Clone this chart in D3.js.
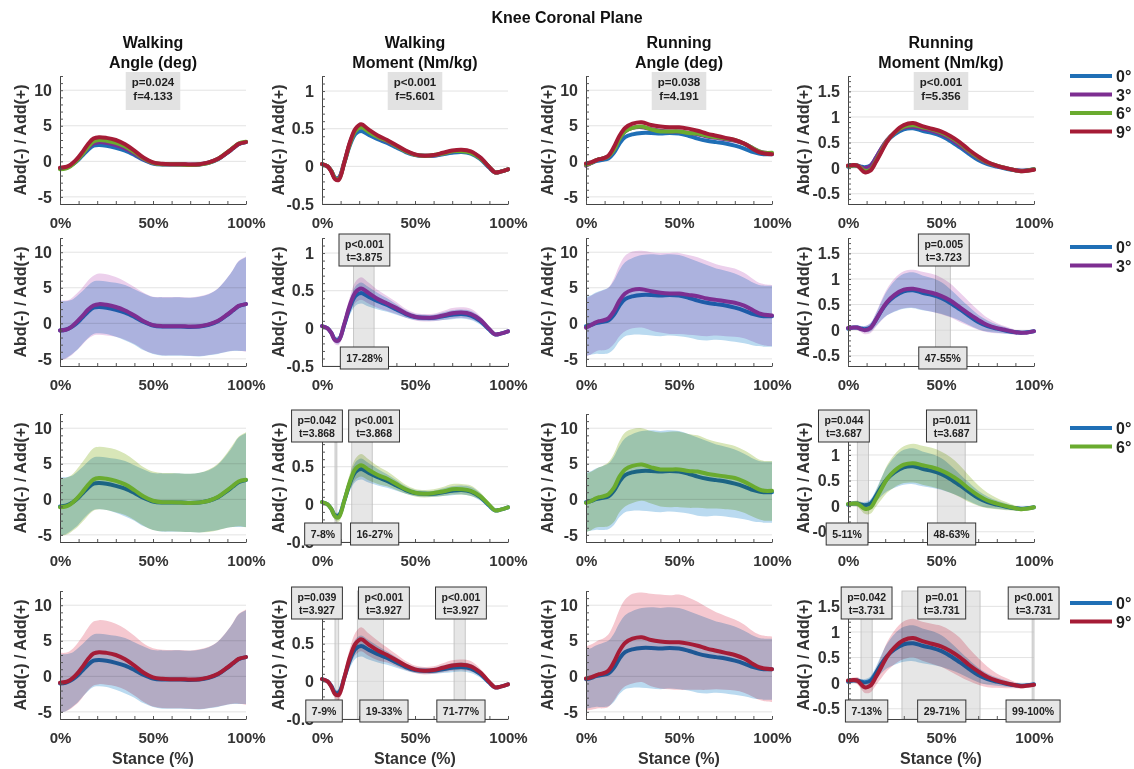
<!DOCTYPE html>
<html><head><meta charset="utf-8">
<script src="https://cdn.jsdelivr.net/npm/d3@7"></script>
<style>
body{margin:0;background:#fff}
svg{display:block}
text{font-family:"Liberation Sans",Arial,sans-serif;font-weight:bold}
.band{mix-blend-mode:multiply}
</style>
</head><body><svg id="c" width="1134" height="769"></svg>
<script>
// ---------------- DATA ----------------
const mainTitle = "Knee Coronal Plane";
const panelTitles = [["Walking","Angle (deg)"],["Walking","Moment (Nm/kg)"],["Running","Angle (deg)"],["Running","Moment (Nm/kg)"]];
const conditions = ["0°","3°","6°","9°"];
const stance = [0,3,5,7,9,12,15,18,21,25,30,35,40,45,50,55,60,65,70,75,80,85,90,93,96,100];
const xTickValues = [0,50,100];
const yTicks = [[-5,0,5,10],[-0.5,0,0.5,1],[-5,0,5,10],[-0.5,0,0.5,1,1.5]];
const yDomains = [[-6,12],[-0.5,1.2],[-6,12],[-0.7,1.8]];
const yMinorStep = [1,0.1,1,0.1];
const yLabel = "Abd(-) / Add(+)";
const xLabel = "Stance (%)";

// Walking angle
const waBlue   = [-1.0,-0.9,-0.7,-0.4,0.0,0.8,1.6,2.2,2.3,2.2,1.9,1.5,0.9,0.2,-0.3,-0.45,-0.45,-0.45,-0.5,-0.45,-0.2,0.3,1.2,1.8,2.4,2.7];
const waPurple = [-1.0,-0.9,-0.7,-0.3,0.2,1.0,1.9,2.5,2.7,2.6,2.3,1.8,1.1,0.3,-0.25,-0.4,-0.4,-0.4,-0.45,-0.4,-0.15,0.35,1.25,1.85,2.45,2.7];
const waGreen  = [-1.1,-1.0,-0.8,-0.4,0.1,1.0,2.0,2.8,3.0,2.9,2.6,2.1,1.3,0.4,-0.2,-0.4,-0.4,-0.45,-0.5,-0.45,-0.2,0.35,1.3,1.9,2.5,2.75];
const waRed    = [-0.9,-0.8,-0.6,-0.2,0.3,1.3,2.4,3.2,3.4,3.3,3.0,2.4,1.5,0.5,-0.15,-0.35,-0.4,-0.4,-0.45,-0.4,-0.15,0.35,1.25,1.85,2.45,2.7];
const waBlueSD   = [4.1,4.0,3.9,3.8,3.8,3.7,3.7,3.7,3.7,3.7,3.8,3.9,3.9,4.0,4.0,4.1,4.1,4.1,4.1,4.2,4.3,4.6,5.2,5.7,6.3,6.6];
const waPurpleSD = [4.2,4.1,4.0,4.0,4.0,4.0,4.1,4.2,4.3,4.3,4.2,4.1,4.0,4.0,4.0,4.1,4.1,4.1,4.1,4.2,4.3,4.6,5.2,5.7,6.3,6.7];
const waGreenSD  = [4.0,4.0,4.0,4.0,4.1,4.2,4.3,4.4,4.4,4.4,4.4,4.3,4.2,4.1,4.1,4.1,4.1,4.1,4.1,4.2,4.4,4.7,5.3,5.8,6.3,6.7];
const waRedSD    = [4.2,4.1,4.1,4.1,4.2,4.3,4.4,4.5,4.5,4.5,4.4,4.3,4.2,4.1,4.1,4.1,4.1,4.1,4.1,4.2,4.3,4.6,5.2,5.7,6.3,6.7];

// Walking moment
const wmBlue   = [0.03,0.0,-0.06,-0.15,-0.15,0.05,0.28,0.43,0.47,0.42,0.36,0.31,0.25,0.19,0.15,0.14,0.14,0.16,0.18,0.19,0.17,0.1,-0.02,-0.08,-0.07,-0.04];
const wmPurple = [0.03,0.0,-0.06,-0.16,-0.16,0.06,0.31,0.48,0.53,0.47,0.39,0.33,0.27,0.2,0.155,0.14,0.145,0.17,0.2,0.21,0.19,0.115,-0.01,-0.08,-0.07,-0.04];
const wmGreen  = [0.03,0.0,-0.06,-0.16,-0.17,0.05,0.3,0.47,0.52,0.46,0.39,0.34,0.27,0.2,0.155,0.14,0.15,0.17,0.2,0.2,0.18,0.11,-0.01,-0.08,-0.07,-0.04];
const wmRed    = [0.03,0.0,-0.07,-0.17,-0.18,0.05,0.32,0.5,0.56,0.49,0.41,0.35,0.28,0.21,0.16,0.14,0.15,0.18,0.21,0.22,0.2,0.12,-0.01,-0.08,-0.07,-0.04];
const wmBlueSD   = [0.02,0.02,0.03,0.04,0.05,0.07,0.1,0.13,0.14,0.13,0.11,0.09,0.07,0.05,0.04,0.04,0.04,0.05,0.06,0.06,0.06,0.05,0.03,0.02,0.02,0.02];
const wmPurpleSD = [0.02,0.02,0.03,0.05,0.06,0.08,0.11,0.14,0.15,0.14,0.12,0.1,0.08,0.06,0.05,0.05,0.05,0.06,0.07,0.07,0.07,0.05,0.03,0.02,0.02,0.02];
const wmGreenSD  = [0.02,0.02,0.03,0.05,0.06,0.08,0.11,0.14,0.15,0.14,0.12,0.1,0.08,0.06,0.05,0.05,0.05,0.06,0.07,0.07,0.07,0.05,0.03,0.02,0.02,0.02];
const wmRedSD    = [0.02,0.02,0.03,0.05,0.07,0.09,0.12,0.15,0.16,0.15,0.13,0.1,0.08,0.06,0.05,0.05,0.05,0.06,0.07,0.07,0.07,0.05,0.03,0.02,0.02,0.02];

// Running angle
const raBlue   = [-0.4,-0.2,0.0,0.1,0.2,0.4,1.2,2.5,3.4,3.8,4.0,4.0,3.9,4.0,3.9,3.6,3.2,2.9,2.7,2.5,2.2,1.8,1.3,1.1,1.0,1.0];
const raPurple = [-0.6,-0.2,0.1,0.3,0.4,0.7,1.7,3.2,4.2,4.7,4.8,4.5,4.3,4.2,4.2,4.0,3.8,3.5,3.3,3.1,2.9,2.5,1.8,1.4,1.2,1.1];
const raGreen  = [-0.5,-0.2,0.1,0.3,0.4,0.7,1.6,3.2,4.2,4.7,4.9,4.5,4.2,4.2,4.2,4.0,3.9,3.6,3.4,3.2,3.0,2.5,1.8,1.4,1.2,1.2];
const raRed    = [-0.3,-0.1,0.1,0.3,0.4,0.8,2.0,3.6,4.7,5.3,5.5,5.1,4.9,4.8,4.8,4.6,4.3,3.9,3.6,3.3,3.0,2.5,1.7,1.3,1.1,1.0];
const raBlueSD   = [4.2,4.2,4.3,4.4,4.5,4.6,4.8,5.0,5.2,5.4,5.6,5.7,5.7,5.7,5.7,5.6,5.5,5.3,5.0,4.9,4.8,4.6,4.4,4.3,4.3,4.3];
const raPurpleSD = [4.1,4.1,4.1,4.1,4.2,4.3,4.6,5.0,5.3,5.4,5.4,5.5,5.6,5.7,5.7,5.6,5.5,5.3,5.0,4.9,4.8,4.6,4.4,4.3,4.3,4.3];
const raGreenSD  = [4.1,4.1,4.1,4.2,4.3,4.5,4.8,5.0,5.2,5.2,5.1,5.1,5.2,5.3,5.3,5.2,5.1,4.9,4.7,4.6,4.5,4.4,4.3,4.2,4.2,4.2];
const raRedSD    = [4.5,4.6,4.7,4.8,4.9,5.1,5.4,5.8,6.1,6.3,6.3,6.5,6.6,6.6,6.7,6.5,6.2,5.8,5.4,5.2,5.0,4.8,4.6,4.6,4.6,4.6];

// Running moment
const rmBlue   = [0.03,0.05,0.05,0.03,0.02,0.05,0.2,0.38,0.53,0.66,0.76,0.78,0.73,0.69,0.63,0.53,0.41,0.28,0.16,0.08,0.03,-0.01,-0.04,-0.05,-0.04,-0.02];
const rmPurple = [0.04,0.05,0.05,0.02,0.0,0.04,0.2,0.39,0.55,0.69,0.79,0.81,0.77,0.73,0.67,0.58,0.45,0.32,0.2,0.1,0.04,0.0,-0.04,-0.05,-0.05,-0.02];
const rmGreen  = [0.04,0.05,0.05,0.0,-0.05,-0.03,0.14,0.34,0.53,0.69,0.81,0.84,0.8,0.76,0.7,0.61,0.49,0.34,0.21,0.11,0.05,0.0,-0.04,-0.06,-0.05,-0.02];
const rmRed    = [0.05,0.06,0.05,-0.02,-0.08,-0.05,0.12,0.32,0.52,0.7,0.84,0.88,0.82,0.77,0.72,0.63,0.51,0.36,0.23,0.12,0.05,0.0,-0.04,-0.06,-0.05,-0.03];
const rmBlueSD   = [0.03,0.03,0.04,0.05,0.06,0.08,0.12,0.18,0.24,0.3,0.34,0.35,0.34,0.33,0.31,0.27,0.22,0.18,0.14,0.11,0.08,0.06,0.04,0.04,0.03,0.03];
const rmPurpleSD = [0.03,0.04,0.05,0.06,0.08,0.1,0.14,0.2,0.26,0.32,0.36,0.37,0.37,0.37,0.36,0.33,0.29,0.24,0.19,0.14,0.1,0.07,0.05,0.04,0.03,0.03];
const rmGreenSD  = [0.04,0.05,0.06,0.08,0.1,0.12,0.15,0.21,0.27,0.32,0.36,0.38,0.38,0.38,0.37,0.35,0.31,0.26,0.2,0.15,0.11,0.08,0.05,0.04,0.04,0.04];
const rmRedSD    = [0.04,0.05,0.07,0.09,0.11,0.13,0.16,0.22,0.28,0.33,0.37,0.38,0.38,0.39,0.4,0.4,0.38,0.32,0.26,0.2,0.14,0.1,0.06,0.05,0.04,0.04];

// ANOVA stats (row 1)
const anovaP = ["p=0.024","p<0.001","p=0.038","p<0.001"];
const anovaF = ["f=4.133","f=5.601","f=4.191","f=5.356"];
// Pairwise significant regions (stance %), label centres in stance %
const sig3 = [[],[{from:17,to:28,p:"p<0.001",t:"t=3.875",lab:22.8,labB:22.8}],[],
  [{from:47,to:55,p:"p=0.005",t:"t=3.723",lab:51.5,labB:51}]];
const sig6 = [[],[{from:7,to:8,p:"p=0.042",t:"t=3.868",lab:-2.7,labB:0.5},{from:16,to:27,p:"p<0.001",t:"t=3.868",lab:28,labB:28.3}],[],
  [{from:5,to:11,p:"p=0.044",t:"t=3.687",lab:-2.2,labB:-0.5},{from:48,to:63,p:"p=0.011",t:"t=3.687",lab:55.7,labB:55.7}]];
const sig9 = [[],[{from:7,to:9,p:"p=0.039",t:"t=3.927",lab:-2.7,labB:1.1},{from:19,to:33,p:"p<0.001",t:"t=3.927",lab:33.3,labB:33.3},{from:71,to:77,p:"p<0.001",t:"t=3.927",lab:74.7,labB:74.7}],[],
  [{from:7,to:13,p:"p=0.042",t:"t=3.731",lab:10,labB:10},{from:29,to:71,p:"p=0.01",t:"t=3.731",lab:50.4,labB:50.4},{from:99,to:100,p:"p<0.001",t:"t=3.731",lab:99.8,labB:99.5}]];

// ---------------- LAYOUT / STYLE ----------------
const means = [[waBlue,waPurple,waGreen,waRed],[wmBlue,wmPurple,wmGreen,wmRed],[raBlue,raPurple,raGreen,raRed],[rmBlue,rmPurple,rmGreen,rmRed]];
const sds = [[waBlueSD,waPurpleSD,waGreenSD,waRedSD],[wmBlueSD,wmPurpleSD,wmGreenSD,wmRedSD],[raBlueSD,raPurpleSD,raGreenSD,raRedSD],[rmBlueSD,rmPurpleSD,rmGreenSD,rmRedSD]];
const rowConds = [[0,1,2,3],[0,1],[0,2],[0,3]];
const sigRows = [null, sig3, sig6, sig9];
const lineColors = ["#1f6fb6","#7d2e91","#6aab2f","#a51c36"];
const bandColors = ["#badaf0","#ecd0ec","#d8e6b8","#f5c8d0"];
const colX = [60,322,586,848], rowY = [76,238,414,591], W = 186, H = 128;
const yLabOff = [40,44,39,45];
const legendTop = [76,247,428,603];

const svg = d3.select("#c");
const curve = d3.curveCatmullRom.alpha(0.5);

svg.append("text").attr("x",567).attr("y",23).attr("text-anchor","middle")
  .style("font-size","16px").attr("fill","#111").text(mainTitle);

panelTitles.forEach((t,c)=>{
  svg.append("text").attr("x",colX[c]+W/2).attr("y",47.5).attr("text-anchor","middle").style("font-size","16px").attr("fill","#111").text(t[0]);
  svg.append("text").attr("x",colX[c]+W/2).attr("y",67.5).attr("text-anchor","middle").style("font-size","16px").attr("fill","#111").text(t[1]);
});

function drawBox(g, cx, top, h, lines, bordered, lineYs, fs){
  const bg = g.append("g");
  const rect = bg.append("rect");
  const texts = lines.map((s,i)=>bg.append("text").attr("x",cx).attr("y",top+lineYs[i]).attr("text-anchor","middle")
     .style("font-size",fs+"px").attr("fill","#222").text(s));
  const w = d3.max(texts, t=>t.node().getComputedTextLength());
  const pad = 6;
  rect.attr("x",cx-w/2-pad).attr("y",top).attr("width",w+2*pad).attr("height",h)
      .attr("fill", bordered ? "#e6e6e6" : "#e2e2e2")
      .attr("stroke", bordered ? "#333" : "none").attr("stroke-width",1);
  return rect.node();
}

function overlapFrac(a, b){
  const w = Math.max(0, Math.min(a.right,b.right) - Math.max(a.left,b.left));
  const h = Math.max(0, Math.min(a.bottom,b.bottom) - Math.max(a.top,b.top));
  return (w*h) / Math.max(1, a.width*a.height);
}

for (let r=0;r<4;r++){
  for (let c=0;c<4;c++){
    const g = svg.append("g").attr("transform",`translate(${colX[c]},${rowY[r]})`);
    const x = d3.scaleLinear().domain([0,100]).range([0,W]);
    const y = d3.scaleLinear().domain(yDomains[c]).range([H,0]);
    // grid
    g.append("g").selectAll("line").data(yTicks[c]).join("line")
      .attr("x1",0).attr("x2",W).attr("y1",d=>y(d)).attr("y2",d=>y(d))
      .attr("stroke","#e3e3e3").attr("stroke-width",1);
    // significance shading
    const sig = r>0 ? sigRows[r][c] : [];
    g.append("g").selectAll("rect").data(sig).join("rect")
      .attr("x",d=>x(d.from)).attr("width",d=>Math.max(1,x(d.to)-x(d.from)))
      .attr("y",0).attr("height",H)
      .attr("fill","#d2d2d2").attr("fill-opacity",0.55)
      .attr("stroke","#bcbcbc").attr("stroke-width",0.8);
    // series
    rowConds[r].forEach(k=>{
      const pts = stance.map((sv,i)=>({x:sv, m:means[c][k][i], s:sds[c][k][i]}));
      if (r>0){
        g.append("path").datum(pts).attr("class","band")
          .attr("d", d3.area().x(d=>x(d.x)).y0(d=>y(d.m-d.s)).y1(d=>y(d.m+d.s)).curve(curve))
          .attr("fill",bandColors[k]);
      }
      g.append("path").datum(pts)
        .attr("d", d3.line().x(d=>x(d.x)).y(d=>y(d.m)).curve(curve))
        .attr("fill","none").attr("stroke",lineColors[k]).attr("stroke-width",4)
        .attr("stroke-linejoin","round").attr("stroke-linecap","round");
    });
    // y axis
    const ya = g.append("g").call(d3.axisLeft(y).tickValues(yTicks[c]).tickFormat(d=>String(d)).tickSize(0).tickSizeOuter(0).tickPadding(8));
    ya.selectAll("text").style("font-size","16px").attr("fill","#333");
    ya.select(".domain").attr("stroke","#444");
    const step = yMinorStep[c];
    const minors = d3.range(Math.round(yDomains[c][0]/step), Math.round(yDomains[c][1]/step)+1).map(i=>+(i*step).toFixed(3));
    const ym = g.append("g").call(d3.axisLeft(y).tickValues(minors).tickFormat("").tickSize(-3).tickSizeOuter(0));
    ym.select(".domain").remove();
    ym.selectAll("line").attr("stroke","#555");
    // x axis
    const xa = g.append("g").attr("transform",`translate(0,${H})`)
      .call(d3.axisBottom(x).tickValues(xTickValues).tickFormat(d=>d+"%").tickSize(0).tickSizeOuter(0).tickPadding(13));
    xa.selectAll("text").style("font-size","15px").attr("fill","#333");
    xa.select(".domain").attr("stroke","#444");
    const xm = g.append("g").attr("transform",`translate(0,${H})`)
      .call(d3.axisBottom(x).tickValues(d3.range(0,101,10)).tickFormat("").tickSize(-3).tickSizeOuter(0));
    xm.select(".domain").remove();
    xm.selectAll("line").attr("stroke","#555");
    // y label
    svg.append("text").attr("transform",`translate(${colX[c]-yLabOff[c]},${rowY[r]+H/2}) rotate(-90)`)
      .attr("dy","0.35em").attr("text-anchor","middle").style("font-size","16px").attr("fill","#333").text(yLabel);
    if (r===3){
      svg.append("text").attr("x",colX[c]+W/2).attr("y",rowY[r]+H+45).attr("text-anchor","middle")
        .style("font-size","16px").attr("fill","#333").text(xLabel);
    }
    // stats boxes
    const boxes = [];
    if (r===0){
      boxes.push(drawBox(g, W/2, -4, 38, [anovaP[c], anovaF[c]], false, [14, 27.5], 11.5));
    } else {
      sig.forEach(d=>{
        boxes.push(drawBox(g, x(d.lab), -4, 32, [d.p, d.t], true, [14, 26.5], 10.5));
        boxes.push(drawBox(g, x(d.labB), H-19, 22, [d.from+"-"+d.to+"%"], true, [15], 10.5));
      });
    }
    // tick labels fully hidden under the opaque boxes are not shown
    const bRects = boxes.map(b=>b.getBoundingClientRect());
    ya.selectAll("text").each(function(){
      const tr = this.getBoundingClientRect();
      if (bRects.some(br=>overlapFrac(tr,br) > 0.6)) d3.select(this).remove();
    });
  }
  // legend
  rowConds[r].forEach((k,i)=>{
    const yy = legendTop[r] + i*18.5;
    svg.append("line").attr("x1",1070).attr("x2",1112).attr("y1",yy).attr("y2",yy)
      .attr("stroke",lineColors[k]).attr("stroke-width",4);
    svg.append("text").attr("x",1116).attr("y",yy+6).style("font-size","16px").attr("fill","#222").text(conditions[k]);
  });
}
</script></body></html>
